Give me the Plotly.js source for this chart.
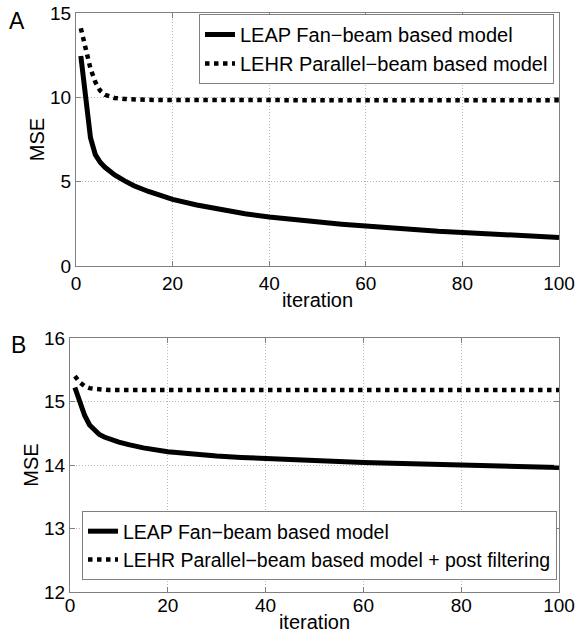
<!DOCTYPE html>
<html>
<head>
<meta charset="utf-8">
<script src="https://cdn.plot.ly/plotly-3.0.1.min.js"></script>
<style>html,body{margin:0;padding:0;background:#fff;}#chart{width:576px;height:636px;}</style>
</head>
<body>
<div id="chart"></div>
<script>
// Panel A data
const itersA_fan = [1,2,3,4,5,6,7,8,10,12,15,20,25,30,35,40,45,50,55,60,65,70,75,80,85,90,95,100];
const mseA_fan   = [12.45,9.9,7.6,6.6,6.15,5.85,5.6,5.4,5.06,4.76,4.42,3.95,3.62,3.35,3.1,2.9,2.74,2.6,2.48,2.37,2.25,2.15,2.06,1.99,1.9,1.83,1.76,1.69];
const itersA_par = [1,2,3,4,5,6,7,8,10,12,15,20,30,40,50,60,70,80,90,100];
const mseA_par   = [14.1,12.75,11.7,10.9,10.4,10.15,10.02,9.96,9.9,9.87,9.85,9.84,9.83,9.83,9.83,9.82,9.82,9.82,9.82,9.82];

// Panel B data
const itersB_fan = [1,2,3,4,5,6,7,8,10,12,15,20,25,30,35,40,50,60,70,80,90,100];
const mseB_fan   = [15.22,15.0,14.78,14.63,14.54,14.48,14.44,14.41,14.36,14.32,14.27,14.21,14.17,14.14,14.12,14.1,14.07,14.04,14.02,14.0,13.98,13.96];
const itersB_par = [1,2,3,4,5,6,8,10,20,40,60,80,100];
const mseB_par   = [15.4,15.3,15.24,15.21,15.2,15.19,15.18,15.18,15.18,15.18,15.18,15.18,15.18];

const nameFan = "LEAP Fan\u2212beam based model";
const nameParA = "LEHR Parallel\u2212beam based model";
const nameParB = "LEHR Parallel\u2212beam based model + post filtering";

const xTicks = [0,20,40,60,80,100];
const yTicksA = [0,5,10,15];
const yTicksB = [12,13,14,15,16];

const FONT = "Liberation Sans, Arial, Helvetica, sans-serif";
const W = 576, H = 636;

const traces = [
  {x: itersA_fan, y: mseA_fan, name: nameFan, mode: 'lines', line: {color: '#000', width: 5}, xaxis: 'x', yaxis: 'y', legend: 'legend'},
  {x: itersA_par, y: mseA_par, name: nameParA, mode: 'lines', line: {color: '#000', width: 4.5, dash: 'dot'}, xaxis: 'x', yaxis: 'y', legend: 'legend'},
  {x: itersB_fan, y: mseB_fan, name: nameFan, mode: 'lines', line: {color: '#000', width: 5}, xaxis: 'x2', yaxis: 'y2', legend: 'legend2'},
  {x: itersB_par, y: mseB_par, name: nameParB, mode: 'lines', line: {color: '#000', width: 4.5, dash: 'dot'}, xaxis: 'x2', yaxis: 'y2', legend: 'legend2'}
];

function xax(domain, anchor, standoff) {
  return {
    domain: domain, anchor: anchor, range: [0,100], tickvals: xTicks, ticktext: xTicks.map(String),
    showline: true, linecolor: '#808080', linewidth: 1, mirror: 'ticks',
    ticks: 'inside', ticklen: 5, tickcolor: '#808080',
    showgrid: true, gridcolor: '#b5b5b5', griddash: '1px,2px', gridwidth: 1, zeroline: false,
    tickfont: {family: FONT, size: 19, color: '#000'},
    ticklabelstandoff: standoff,
    title: {text: 'iteration', font: {family: FONT, size: 20, color: '#000'}, standoff: 0},
    automargin: false, fixedrange: true
  };
}
function yax(domain, anchor, range, ticks) {
  return {
    domain: domain, anchor: anchor, range: range, tickvals: ticks, ticktext: ticks.map(String),
    showline: true, linecolor: '#808080', linewidth: 1, mirror: 'ticks',
    ticks: 'inside', ticklen: 5, tickcolor: '#808080',
    showgrid: true, gridcolor: '#b5b5b5', griddash: '1px,2px', gridwidth: 1, zeroline: false,
    tickfont: {family: FONT, size: 19, color: '#000'},
    title: {text: 'MSE', font: {family: FONT, size: 20, color: '#000'}, standoff: 0},
    automargin: false, fixedrange: true
  };
}

const layout = {
  width: W, height: H,
  margin: {l: 0, r: 0, t: 0, b: 0},
  paper_bgcolor: '#fff', plot_bgcolor: '#fff',
  font: {family: FONT, color: '#000'},
  xaxis: xax([76/W, 559/W], 'y', 0),
  yaxis: yax([(H-266)/H, (H-13)/H], 'x', [0,15], yTicksA),
  xaxis2: xax([70/W, 559/W], 'y2', -4),
  yaxis2: yax([(H-592)/H, (H-338)/H], 'x2', [12,16], yTicksB),
  legend: {
    x: 554/W, y: 1 - 14/H, xanchor: 'right', yanchor: 'top',
    bgcolor: '#fff', bordercolor: '#808080', borderwidth: 1,
    font: {family: FONT, size: 20, color: '#000'}, itemwidth: 30
  },
  legend2: {
    x: 557/W, y: 1 - 511/H, xanchor: 'right', yanchor: 'top',
    bgcolor: '#fff', bordercolor: '#808080', borderwidth: 1,
    font: {family: FONT, size: 19.5, color: '#000'}, itemwidth: 30
  },
  annotations: [
    {text: 'A', xref: 'paper', yref: 'paper', x: 17/W, y: 1 - 21/H, xanchor: 'center', yanchor: 'middle', showarrow: false, font: {family: FONT, size: 23, color: '#000'}},
    {text: 'B', xref: 'paper', yref: 'paper', x: 18/W, y: 1 - 345/H, xanchor: 'center', yanchor: 'middle', showarrow: false, font: {family: FONT, size: 23, color: '#000'}}
  ],
  showlegend: true
};

Plotly.newPlot('chart', traces, layout, {displayModeBar: false, staticPlot: true});
</script>
</body>
</html>
